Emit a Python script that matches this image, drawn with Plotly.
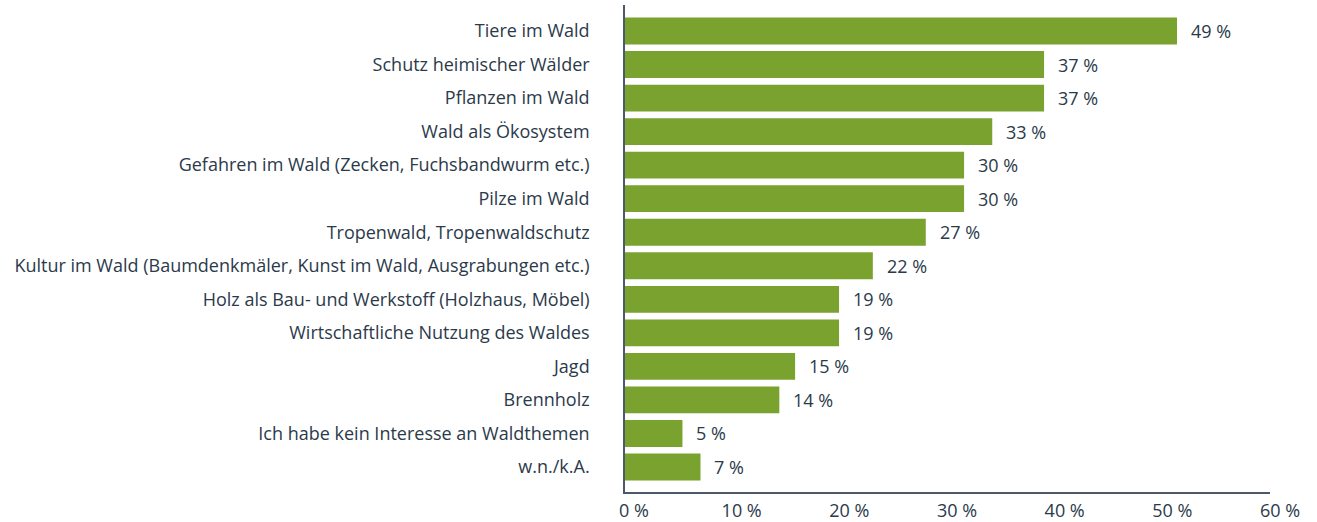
import plotly.graph_objects as go

categories = [
    "Tiere im Wald",
    "Schutz heimischer Wälder",
    "Pflanzen im Wald",
    "Wald als Ökosystem",
    "Gefahren im Wald (Zecken, Fuchsbandwurm etc.)",
    "Pilze im Wald",
    "Tropenwald, Tropenwaldschutz",
    "Kultur im Wald (Baumdenkmäler, Kunst im Wald, Ausgrabungen etc.)",
    "Holz als Bau- und Werkstoff (Holzhaus, Möbel)",
    "Wirtschaftliche Nutzung des Waldes",
    "Jagd",
    "Brennholz",
    "Ich habe kein Interesse an Waldthemen",
    "w.n./k.A.",
]
values = [49.0, 37.2, 37.2, 32.6, 30.1, 30.1, 26.7, 22.0, 19.0, 19.0, 15.1, 13.7, 5.1, 6.7]
value_labels = ["49 %", "37 %", "37 %", "33 %", "30 %", "30 %", "27 %", "22 %",
                "19 %", "19 %", "15 %", "14 %", "5 %", "7 %"]
tick_values = [0, 10, 20, 30, 40, 50, 60]
tick_labels = ["0 %", "10 %", "20 %", "30 %", "40 %", "50 %", "60 %"]

GREEN = "#7aa22f"
TEXT = "#2b3a4a"
AXIS = "#4d5966"
FONT = "Open Sans"
FS = 18

W, H = 1317, 522
ml, mr, mt, mb = 625, 17, 5, 30
pw = W - ml - mr

fig = go.Figure()
fig.add_trace(go.Bar(
    x=values, y=categories, orientation="h",
    marker=dict(color=GREEN, line=dict(width=0)),
    hoverinfo="skip", showlegend=False,
))
# invisible trace that carries the labelled axis
fig.add_trace(go.Scatter(x=[None], y=[None], xaxis="x2", yaxis="y",
                         mode="markers", showlegend=False, hoverinfo="skip"))

for c, v, t in zip(categories, values, value_labels):
    fig.add_annotation(x=v, y=c, text=t, showarrow=False, xanchor="left",
                       xshift=12, font=dict(family=FONT, size=FS, color=TEXT))

fig.update_layout(
    width=W, height=H,
    margin=dict(l=ml, r=mr, t=mt, b=mb, autoexpand=False),
    plot_bgcolor="rgba(0,0,0,0)", paper_bgcolor="white",
    bargap=0.2,
    font=dict(family=FONT, size=FS, color=TEXT),
    xaxis=dict(
        domain=[0, 645 / pw], range=[0, 645 / 11.265],
        showline=True, linecolor=AXIS, linewidth=1.5,
        showgrid=False, zeroline=False, showticklabels=False, ticks="",
    ),
    xaxis2=dict(
        domain=[9 / pw, 655 / pw], range=[0, 60], anchor="y", side="bottom",
        tickvals=tick_values, ticktext=tick_labels,
        showline=False, showgrid=False, zeroline=False, ticks="",
        tickfont=dict(family=FONT, size=FS, color=TEXT),
        ticklabelstandoff=6,
    ),
    yaxis=dict(
        categoryorder="array", categoryarray=categories,
        range=[13.745, -0.775],
        showline=True, linecolor=AXIS, linewidth=1.5,
        showgrid=False, zeroline=False, ticks="",
        ticklabelstandoff=30, automargin=False,
        tickfont=dict(family=FONT, size=FS, color=TEXT),
    ),
)

fig.write_html("out.html", config={"displayModeBar": False},
               post_script="document.body.style.margin='0';")
